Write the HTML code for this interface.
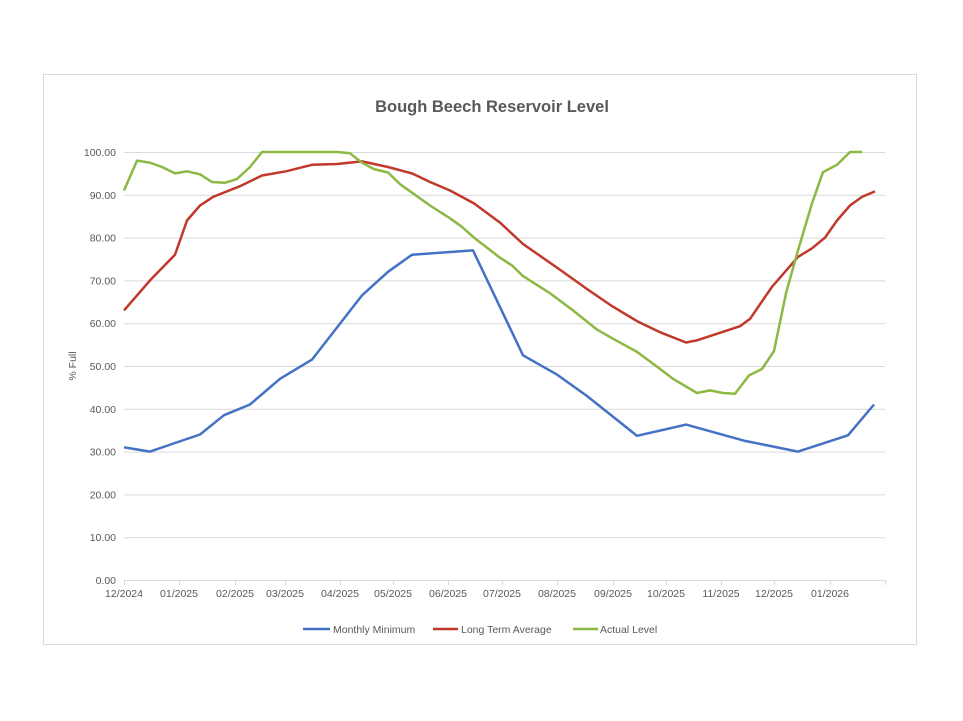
<!DOCTYPE html>
<html><head><meta charset="utf-8"><style>
body{margin:0;background:#fff;}
svg{display:block;font-family:"Liberation Sans",Arial,sans-serif;}
</style></head><body>
<svg id="c" width="963" height="721" xmlns="http://www.w3.org/2000/svg">
<rect x="43.5" y="74.5" width="873" height="570" fill="#fff" stroke="#d9d9d9"/>
<text x="492" y="112" text-anchor="middle" font-size="16.5" font-weight="bold" fill="#595959">Bough Beech Reservoir Level</text>
<g id="grid" stroke="#d9d9d9" stroke-width="1"></g>
<g id="yl" font-size="10.5" fill="#595959" text-anchor="end"></g>
<g id="xl" font-size="10.5" fill="#595959" text-anchor="middle"></g>
<text transform="translate(76,366) rotate(-90)" text-anchor="middle" font-size="10.5" fill="#595959">% Full</text>
<polyline id="b" fill="none" stroke="#4472c4" stroke-width="2.5" stroke-linejoin="round"/>
<polyline id="r" fill="none" stroke="#c0392b" stroke-width="2.5" stroke-linejoin="round"/>
<polyline id="g" fill="none" stroke="#8db843" stroke-width="2.5" stroke-linejoin="round"/>
<g font-size="10.5" fill="#595959">
<line x1="303" y1="629" x2="330" y2="629" stroke="#4472c4" stroke-width="2.5"/><text x="333" y="633">Monthly Minimum</text>
<line x1="433" y1="629" x2="458" y2="629" stroke="#c0392b" stroke-width="2.5"/><text x="461" y="633">Long Term Average</text>
<line x1="573" y1="629" x2="598" y2="629" stroke="#8db843" stroke-width="2.5"/><text x="600" y="633">Actual Level</text>
</g>
</svg>
<script>
var Y=v=>580-v*4.28,ns="http://www.w3.org/2000/svg";
function el(p,t,a,txt){var e=document.createElementNS(ns,t);for(var k in a)e.setAttribute(k,a[k]);if(txt)e.textContent=txt;document.getElementById(p).appendChild(e);}
for(var v=0;v<=100;v+=10){el("grid","line",{x1:124,x2:885,y1:Y(v)+.5,y2:Y(v)+.5});el("yl","text",{x:116,y:Y(v)+4},v.toFixed(2));}
var tx=[124,179,235,285,340,393,448,502,557,613,666,721,774,830,885];
var lb=["12/2024","01/2025","02/2025","03/2025","04/2025","05/2025","06/2025","07/2025","08/2025","09/2025","10/2025","11/2025","12/2025","01/2026"];
tx.forEach((x,i)=>{el("grid","line",{x1:x+.5,x2:x+.5,y1:580,y2:585});if(lb[i])el("xl","text",{x:x,y:597},lb[i]);});
function set(id,d){document.getElementById(id).setAttribute("points",d.map(p=>p[0]+","+Y(p[1]).toFixed(1)).join(" "));}
set("b",[[124,31],[150,30],[175,32],[200,34],[224,38.5],[250,41],[280,47],[312,51.5],[337,59],[362,66.5],[388,72],[412,76],[473,77],[523,52.5],[557,48],[587,43],[637,33.7],[686,36.3],[745,32.5],[798,30],[848,33.8],[874,41]]);
set("r",[[124,63],[150,70],[175,76],[187,84],[200,87.5],[213,89.5],[240,92],[262,94.5],[286,95.5],[312,97],[337,97.2],[362,97.8],[388,96.5],[412,95],[430,93],[450,91],[474,88],[500,83.5],[523,78.5],[557,73],[587,68],[612,64],[637,60.5],[659,58],[686,55.5],[697,56],[723,58],[740,59.3],[750,61],[772,68.5],[798,75.5],[812,77.5],[825,80],[837,84],[850,87.5],[862,89.5],[875,90.8]]);
set("g",[[124,91],[137,98],[150,97.5],[162,96.5],[175,95],[187,95.5],[200,94.8],[212,93],[225,92.8],[237,93.7],[250,96.5],[262,100],[337,100],[350,99.7],[362,97.5],[374,96],[388,95.2],[400,92.5],[412,90.5],[430,87.5],[450,84.5],[462,82.5],[474,80],[500,75.3],[512,73.5],[523,71],[550,67],[573,63],[597,58.5],[612,56.5],[637,53.3],[659,49.5],[673,47],[697,43.7],[710,44.3],[723,43.7],[735,43.5],[749,47.8],[762,49.3],[774,53.5],[786,67],[798,77],[812,88],[823,95.3],[837,97],[850,100],[862,100]]);
</script>
</body></html>
